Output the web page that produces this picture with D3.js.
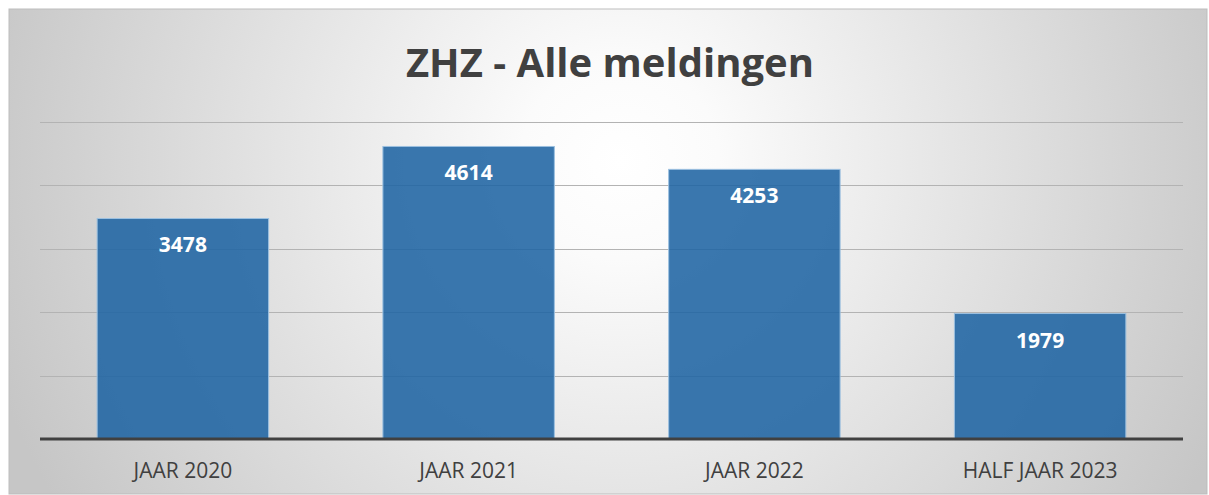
<!DOCTYPE html>
<html><head><meta charset="utf-8">
<script src="https://cdn.jsdelivr.net/npm/d3@7"></script>
<style>html,body{margin:0;padding:0;background:#fff;}svg{display:block;}</style>
</head><body>
<svg id="c" width="1209" height="495"></svg>
<script>
const categories = ["JAAR 2020", "JAAR 2021", "JAAR 2022", "HALF JAAR 2023"];
const values = [3478, 4614, 4253, 1979];
const yTicks = [0, 1000, 2000, 3000, 4000, 5000];
const title = "ZHZ - Alle meldingen";

const svg = d3.select("#c");
const defs = svg.append("defs");
const rg = defs.append("radialGradient").attr("id","bg")
  .attr("gradientUnits","userSpaceOnUse").attr("cx",620).attr("cy",160).attr("r",660);
rg.append("stop").attr("offset","0").attr("stop-color","#ffffff");
rg.append("stop").attr("offset","0.15").attr("stop-color","#fbfbfb");
rg.append("stop").attr("offset","1").attr("stop-color","#c6c6c6");

svg.append("rect").attr("x",9).attr("y",9).attr("width",1198).attr("height",485)
  .attr("fill","url(#bg)").attr("stroke","#bdbdbd").attr("stroke-width",1);

const x0 = 40, x1 = 1183, yBase = 439, yTop = 122;
const x = d3.scaleBand().domain(categories).range([x0, x1]).paddingInner(0.4).paddingOuter(0.2);
const y = d3.scaleLinear().domain([0, 5000]).range([yBase, yTop]);

svg.append("g").selectAll("line").data(yTicks.slice(1)).join("line")
  .attr("x1", x0).attr("x2", x1)
  .attr("y1", d => Math.round(y(d)) + 0.5).attr("y2", d => Math.round(y(d)) + 0.5)
  .attr("stroke", "#b3b3b3").attr("stroke-width", 1.2);

svg.append("g").selectAll("rect").data(values).join("rect")
  .attr("x", (d,i) => x(categories[i])).attr("width", x.bandwidth())
  .attr("y", d => y(d)).attr("height", d => yBase - y(d))
  .attr("fill", "#1f64a3").attr("fill-opacity", 0.88)
  .attr("stroke", "#9cc0e0").attr("stroke-width", 1);

svg.append("line").attr("x1", x0).attr("x2", x1).attr("y1", yBase).attr("y2", yBase)
  .attr("stroke", "#404040").attr("stroke-width", 3);

svg.append("g").selectAll("text").data(values).join("text")
  .attr("x", (d,i) => x(categories[i]) + x.bandwidth()/2)
  .attr("y", d => y(d) + 34)
  .attr("text-anchor","middle").attr("fill","#ffffff")
  .attr("font-family","'Open Sans', sans-serif").attr("font-weight","bold").attr("font-size",21)
  .text(d => d);

const xAxis = d3.axisBottom(x).tickSize(0).tickPadding(0);
const ax = svg.append("g").attr("transform", `translate(0,${yBase + 39})`).call(xAxis);
ax.select(".domain").remove();
ax.selectAll("text").attr("fill","#404040").attr("font-family","'Open Sans', sans-serif")
  .attr("font-size",21).attr("dy",0);

svg.append("text").attr("x", 610).attr("y", 77).attr("text-anchor","middle")
  .attr("font-family","'Open Sans', sans-serif").attr("font-weight","bold").attr("font-size",40)
  .attr("fill","#404040").text(title);
</script>
</body></html>
